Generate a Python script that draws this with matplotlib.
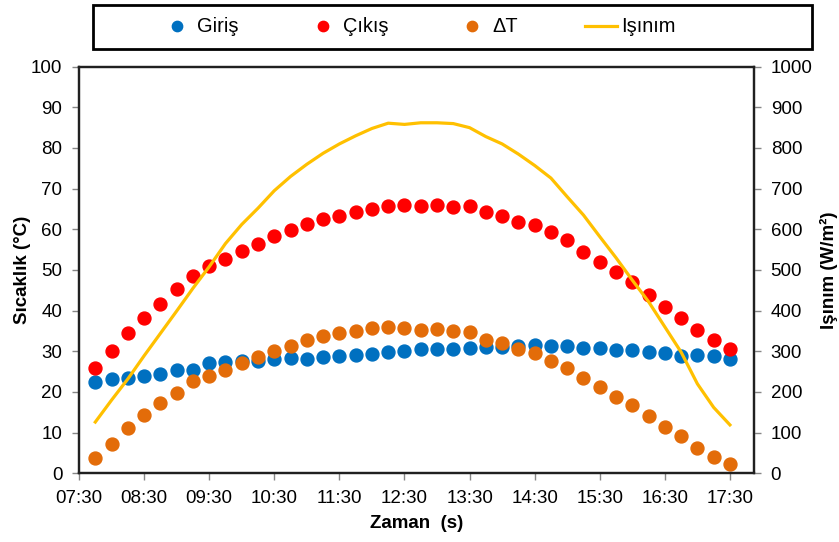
import matplotlib
matplotlib.use('Agg')
import matplotlib.pyplot as plt
from matplotlib.patches import Rectangle
import numpy as np

plt.rcParams['font.family'] = ['Liberation Sans', 'DejaVu Sans']

# measurement times (every 15 min), as hours of the day
times = ['07:45', '08:00', '08:15', '08:30', '08:45', '09:00', '09:15', '09:30',
         '09:45', '10:00', '10:15', '10:30', '10:45', '11:00', '11:15', '11:30',
         '11:45', '12:00', '12:15', '12:30', '12:45', '13:00', '13:15', '13:30',
         '13:45', '14:00', '14:15', '14:30', '14:45', '15:00', '15:15', '15:30',
         '15:45', '16:00', '16:15', '16:30', '16:45', '17:00', '17:15', '17:30']

giris = [22.4, 23.1, 23.5, 23.9, 24.3, 25.4, 25.5, 27.0, 27.4, 27.6,
         27.7, 28.1, 28.4, 28.2, 28.6, 28.8, 29.1, 29.4, 29.9, 30.0,
         30.5, 30.5, 30.6, 30.8, 31.1, 31.1, 31.4, 31.5, 31.4, 31.2,
         30.9, 30.7, 30.4, 30.2, 29.8, 29.5, 28.8, 29.1, 28.8, 28.0]
cikis = [25.9, 30.1, 34.5, 38.2, 41.7, 45.2, 48.4, 50.9, 52.6, 54.6,
         56.5, 58.4, 59.9, 61.2, 62.5, 63.2, 64.2, 65.1, 65.8, 65.9,
         65.8, 65.9, 65.5, 65.8, 64.3, 63.3, 61.9, 61.0, 59.3, 57.3,
         54.4, 52.0, 49.4, 47.0, 43.8, 40.9, 38.3, 35.2, 32.7, 30.6]
delta_t = [3.8, 7.1, 11.1, 14.4, 17.3, 19.8, 22.7, 23.9, 25.4, 27.2,
           28.6, 30.1, 31.4, 32.9, 33.7, 34.4, 35.0, 35.8, 36.0, 35.8,
           35.2, 35.4, 35.0, 34.8, 32.9, 32.1, 30.6, 29.5, 27.7, 25.9,
           23.4, 21.1, 18.8, 16.7, 14.1, 11.4, 9.2, 6.2, 4.1, 2.3]
isinim = [126, 180, 232, 289, 344, 399, 455, 508, 565, 612,
          652, 695, 730, 760, 787, 810, 830, 848, 861, 858,
          862, 862, 860, 850, 828, 810, 785, 757, 726, 680,
          635, 582, 530, 475, 422, 360, 298, 220, 162, 119]

tick_labels = ['07:30', '08:30', '09:30', '10:30', '11:30', '12:30',
               '13:30', '14:30', '15:30', '16:30', '17:30']

def to_hours(s):
    h, m = s.split(':')
    return int(h) + int(m) / 60

x = np.array([to_hours(t) for t in times])
xticks = [to_hours(t) for t in tick_labels]

fig = plt.figure(figsize=(8.39, 5.42), dpi=100)
ax = fig.add_axes([0.0942, 0.1268, 0.8045, 0.7502])
ax2 = ax.twinx()

ms = 9.3
ax.plot(x, giris, 'o', color='#0070C0', ms=ms, label='Giriş')
ax.plot(x, cikis, 'o', color='#FF0000', ms=ms, label='Çıkış')
ax.plot(x, delta_t, 'o', color='#E36C09', ms=ms, label='ΔT')
ax2.plot(x, isinim, '-', color='#FFC000', lw=2.3, label='Işınım')

ax.set_xlim(7.5, 17.87)
ax.set_ylim(0, 100)
ax2.set_ylim(0, 1000)
ax.set_xticks(xticks)
ax.set_xticklabels(tick_labels)
ax.set_yticks(np.arange(0, 101, 10))
ax2.set_yticks(np.arange(0, 1001, 100))

for a in (ax, ax2):
    a.tick_params(labelsize=13.5, length=5, width=1, color='#868686', pad=7)
    for sp in a.spines.values():
        sp.set_color('#202020')
        sp.set_linewidth(1.6)

ax.set_xlabel('Zaman  (s)', fontsize=13.5, fontweight='bold', labelpad=6)
ax.set_ylabel('Sıcaklık (°C)', fontsize=13.5, fontweight='bold', labelpad=0)
ax2.set_ylabel('Işınım (W/m²)', fontsize=13.5, fontweight='bold', labelpad=5)

# legend box across the top
fig.patches.append(Rectangle((93 / 839, 1 - 49 / 542), 719 / 839, 44 / 542,
                             transform=fig.transFigure, fill=False,
                             edgecolor='black', linewidth=2))
h1, l1 = ax.get_legend_handles_labels()
h2, l2 = ax2.get_legend_handles_labels()
fig.legend(h1 + h2, l1 + l2, ncol=4, frameon=False, fontsize=14.4,
           loc='center left', bbox_to_anchor=(161 / 839, 1 - 27 / 542),
           borderpad=0, borderaxespad=0, handlelength=1.62,
           handletextpad=0.2, columnspacing=3.37, markerscale=0.8)

fig.savefig('out.png', dpi=100)
